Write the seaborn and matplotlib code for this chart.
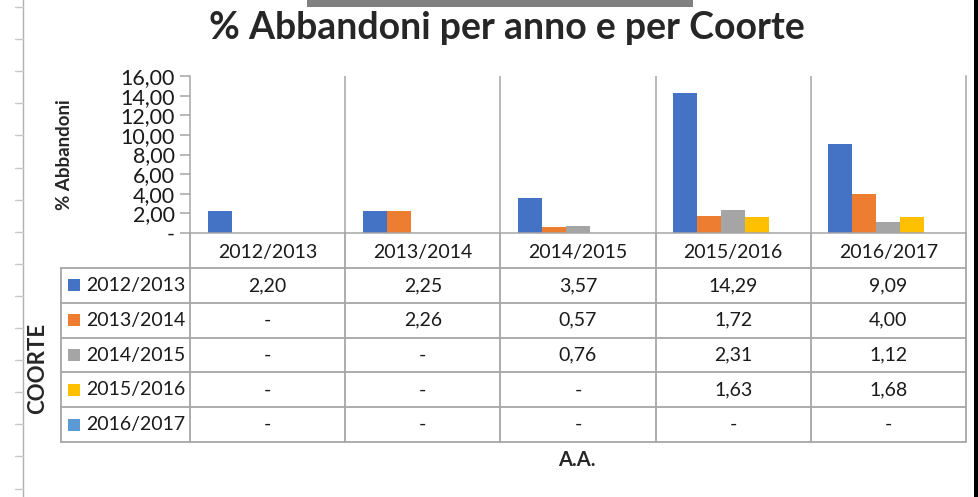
import numpy as np
import pandas as pd
import matplotlib
matplotlib.use("Agg")
import matplotlib.pyplot as plt
from matplotlib.patches import Rectangle
import seaborn as sns

# ==========================================
# DATA
# ==========================================
anni = ["2012/2013", "2013/2014", "2014/2015", "2015/2016", "2016/2017"]
coorti = ["2012/2013", "2013/2014", "2014/2015", "2015/2016", "2016/2017"]

coorte_2012 = [2.20, 2.25, 3.57, 14.29, 9.09]
coorte_2013 = [None, 2.26, 0.57, 1.72, 4.00]
coorte_2014 = [None, None, 0.76, 2.31, 1.12]
coorte_2015 = [None, None, None, 1.63, 1.68]
coorte_2016 = [None, None, None, None, None]

y_ticks = [0, 2, 4, 6, 8, 10, 12, 14, 16]

COLORS = ["#4472C4", "#ED7D31", "#A5A5A5", "#FFC000", "#5B9BD5"]
GRID = "#A6A6A6"
TXT = "#1a1a1a"
W, H = 979, 497


def fmt(v):
    if v is None or v == 0:
        return "-"
    return f"{v:.2f}".replace(".", ",")


def main():
    sns.set_style("white")
    plt.rcParams['font.family'] = ['Lato', 'DejaVu Sans']

    series = [coorte_2012, coorte_2013, coorte_2014, coorte_2015, coorte_2016]
    rows = []
    for coorte, vals in zip(coorti, series):
        for anno, v in zip(anni, vals):
            rows.append({'anno': anno, 'coorte': coorte, 'pct': 0.0 if v is None else v})
    df = pd.DataFrame(rows)

    fig = plt.figure(figsize=(W / 100, H / 100), dpi=100)

    # background layer in pixel coords (table + sheet decorations)
    bg = fig.add_axes([0, 0, 1, 1], zorder=0)
    bg.set_xlim(0, W)
    bg.set_ylim(H, 0)
    bg.axis('off')

    # plot area
    left, right, top, bottom = 190, 966, 76, 233
    ax = fig.add_axes([left / W, 1 - bottom / H, (right - left) / W, (bottom - top) / H], zorder=1)
    ax.set_facecolor('none')

    sns.barplot(data=df, x='anno', y='pct', hue='coorte', order=anni, hue_order=coorti,
                palette=COLORS, width=0.774, saturation=1, errorbar=None,
                linewidth=0, legend=False, ax=ax)

    ax.set_xlim(-0.5, len(anni) - 0.5)
    ax.set_ylim(0, 16)
    ax.set_yticks(y_ticks)
    ax.set_yticklabels([fmt(t) for t in y_ticks], fontsize=15.5, color=TXT)
    ax.tick_params(axis='y', length=7, width=1.1, color=GRID, pad=4, left=True)
    ax.set_xticks(range(len(anni)))
    ax.set_xticklabels(anni, fontsize=14, color=TXT)
    ax.tick_params(axis='x', length=0, pad=8)
    ax.set_xlabel('')
    ax.set_ylabel('% Abbandoni', fontsize=13.5, fontweight='bold')
    ax.yaxis.set_label_coords(-0.151, 0.5)
    for k in range(1, len(anni)):
        ax.axvline(k - 0.5, color=GRID, lw=1.1, zorder=0)
    for s in ['left', 'right', 'bottom']:
        ax.spines[s].set_visible(True)
        ax.spines[s].set_color(GRID)
        ax.spines[s].set_linewidth(1.1)
    ax.spines['top'].set_visible(False)

    # data table below the chart
    n = len(anni)
    col_w = (right - left) / n
    edges = [left + i * col_w for i in range(n + 1)]
    row_top = 268
    row_h = 34.8
    tab_left = 61
    row_edges = [row_top + i * row_h for i in range(len(coorti) + 1)]
    for x in edges:
        bg.plot([x, x], [bottom, row_edges[-1]], color=GRID, lw=1.3)
    bg.plot([tab_left, tab_left], [row_top, row_edges[-1]], color=GRID, lw=1.3)
    for y in row_edges:
        bg.plot([tab_left, right], [y, y], color=GRID, lw=1.3)

    for i, (coorte, vals) in enumerate(zip(coorti, series)):
        yc = row_top + (i + 0.5) * row_h
        bg.add_patch(Rectangle((68, yc - 6), 12, 12, color=COLORS[i], lw=0))
        bg.text(86, yc, coorte, fontsize=14, va='center', ha='left', color=TXT)
        for j, v in enumerate(vals):
            bg.text((edges[j] + edges[j + 1]) / 2, yc, fmt(v), fontsize=14,
                    va='center', ha='center', color=TXT)

    bg.text(38, 368, 'COORTE', rotation=90, fontsize=16, fontweight='bold',
            va='center', ha='center')
    bg.text(577, 460, 'A.A.', fontsize=14.5, fontweight='bold', va='center', ha='center')

    fig.text(0.518, 1 - 28 / H, '% Abbandoni per anno e per Coorte', fontsize=27,
             fontweight='bold', ha='center', va='center')

    # spreadsheet leftovers around the chart
    bg.add_patch(Rectangle((307, 0), 386, 7, color='#808080', lw=0))
    bg.add_patch(Rectangle((974, 0), 5, H, color='black', lw=0))
    bg.plot([23, 23], [0, H], color='#B0B0B0', lw=1)
    for k in range(16):
        y = 7 + 32.1 * k
        bg.plot([15, 23], [y, y], color='#C8C8C8', lw=1)

    fig.savefig('out.png', dpi=100, facecolor='white')
    plt.close(fig)


if __name__ == "__main__":
    main()
